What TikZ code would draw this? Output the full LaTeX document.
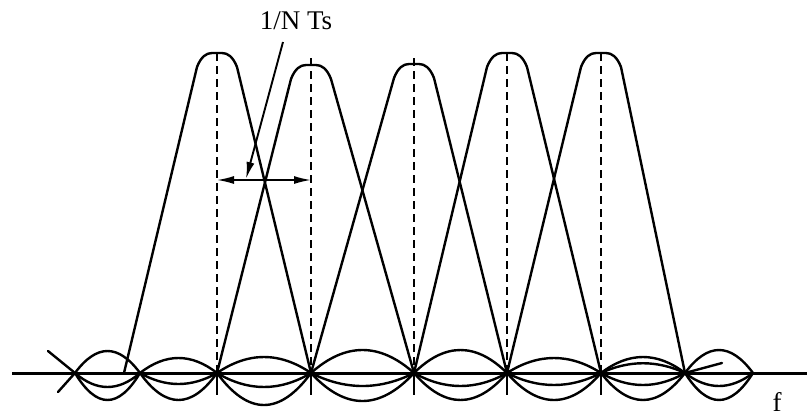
\documentclass[tikz,border=0pt]{standalone}
\usepackage{fontspec}
\setmainfont{Liberation Serif}
\usetikzlibrary{arrows.meta}
\begin{document}
\begin{tikzpicture}[x=1pt,y=-1pt,
  curve/.style={line width=2.4pt,line join=round,line cap=round},
  axisline/.style={line width=3pt},
  centerline/.style={line width=2.8pt,dash pattern=on 8pt off 5pt},
  tickline/.style={line width=2.4pt},
  thinline/.style={line width=1.6pt},
  lbl/.style={font=\fontsize{27}{30}\selectfont,inner sep=0pt}]
\useasboundingbox (0,0) rectangle (807,418);
% axis
\coordinate (ax0) at (12,373);
\coordinate (ax1) at (807,373);
\draw[axisline] (ax0) -- (ax1);
% dashed centre lines and ticks
\foreach \c/\t in {217/53,311/58,414/58,507/53,601/53}{
  \draw[centerline] (\c,\t) -- (\c,373);
  \draw[tickline] (\c,373) -- (\c,395);
}
% main lobes
\foreach \c/\t/\l/\r in {217/53/124/311, 311/65/217/414, 414/64/311/507, 507/53/414/601, 601/53/507/685}{
  \draw[curve] (\l,373) -- ({\c-20},{\t+14}) .. controls ({\c-16},\t+4) and ({\c-11},\t) .. ({\c-5},\t)
     -- ({\c+5},\t) .. controls ({\c+11},\t) and ({\c+16},\t+4) .. ({\c+20},{\t+14}) -- (\r,373);
}
% side lobes
\foreach \a/\b/\u/\m/\d in {75/140/-22/14/27, 140/217/-15/11/27, 217/311/-16/14/32,
   311/414/-23/13/28, 414/507/-23/13/27, 507/601/-15/12/27, 601/685/-16/12/27, 685/753/-23/13/27}{
  \draw[curve] (\a,373) .. controls ({\a+(\b-\a)/3},{373+4*(\u)/3}) and ({\b-(\b-\a)/3},{373+4*(\u)/3}) .. (\b,373);
  \draw[curve] (\a,373) .. controls ({\a+(\b-\a)/3},{373+4*(\m)/3}) and ({\b-(\b-\a)/3},{373+4*(\m)/3}) .. (\b,373);
  \draw[curve] (\a,373) .. controls ({\a+(\b-\a)/3},{373+4*(\d)/3}) and ({\b-(\b-\a)/3},{373+4*(\d)/3}) .. (\b,373);
}
\draw[curve] (601,373) .. controls (629,360) and (657,360) .. (685,373);
\draw[curve] (685,373) -- (722,363);
% left crossing arms
\coordinate (xa) at (48,351);
\coordinate (xb) at (58,392);
\coordinate (xc) at (75,373);
\draw[curve] (xa) -- (xc);
\draw[curve] (xb) -- (xc);
% dimension arrow
\coordinate (d1) at (217,180);
\coordinate (d2) at (311,180);
\draw[thinline,{Latex[length=17pt,width=8pt]}-{Latex[length=17pt,width=8pt]}] (d1) -- (d2);
% label and leader
\node[lbl] (lab) at (296,21) {1/N Ts};
\coordinate (lt) at (283,42);
\coordinate (lh) at (246,179);
\draw[line width=1.9pt,-{Latex[length=17pt,width=8pt]}] (lt) -- (lh);
\node[lbl] (f) at (777,402) {f};
\end{tikzpicture}
\end{document}
